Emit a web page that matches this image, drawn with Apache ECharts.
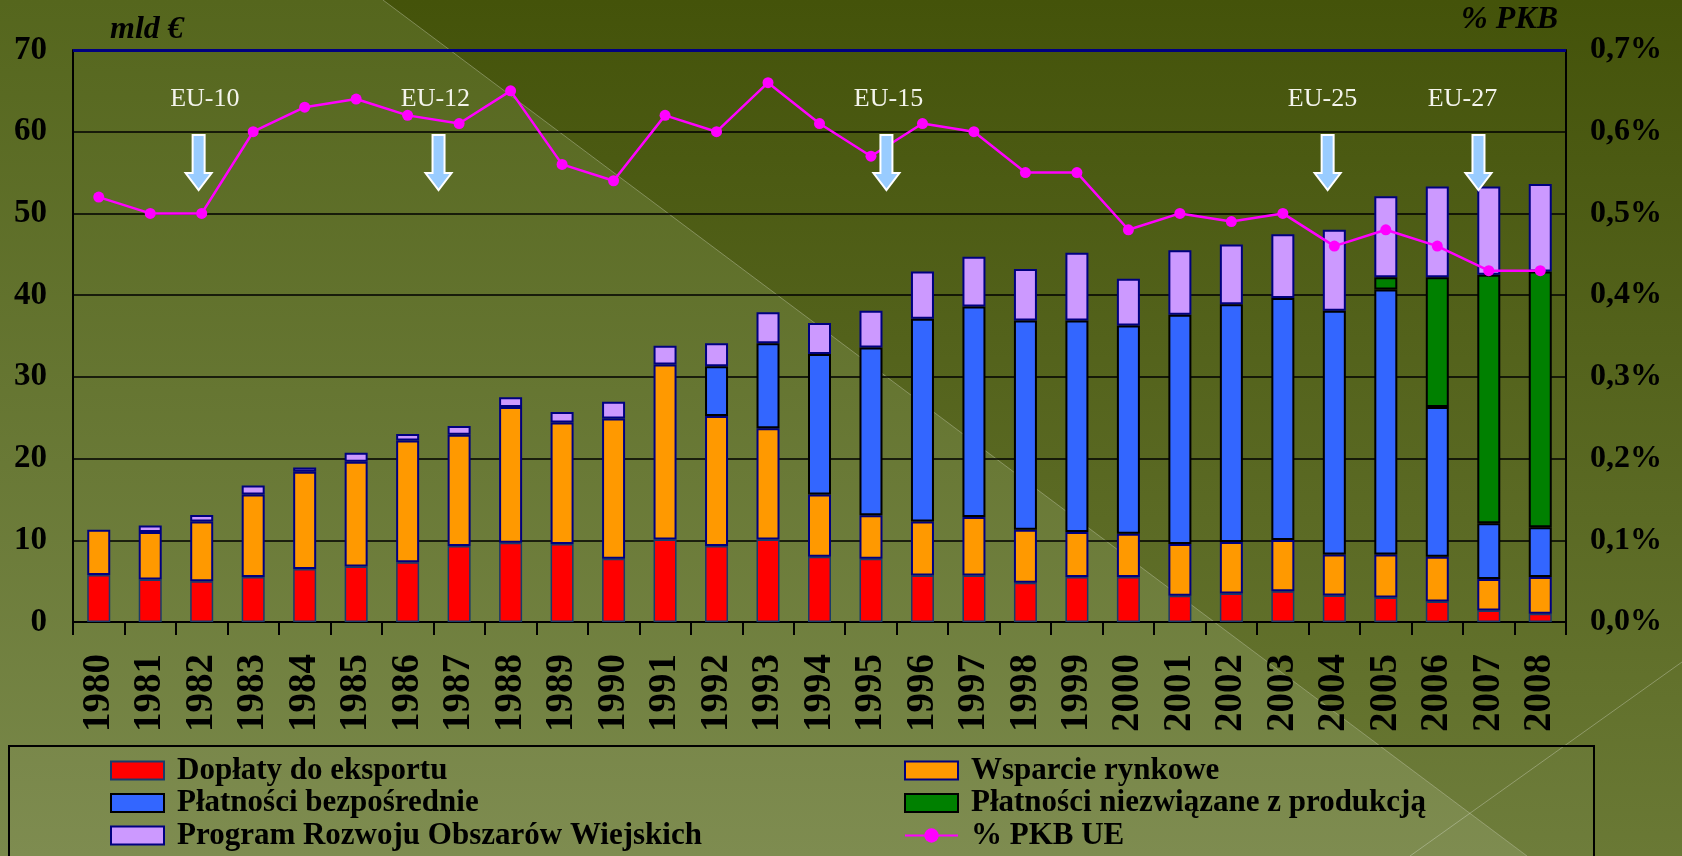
<!DOCTYPE html>
<html>
<head>
<meta charset="utf-8">
<script src="https://cdn.jsdelivr.net/npm/echarts@6/dist/echarts.min.js"></script>
<style>
html,body{margin:0;padding:0;background:#5a6a20;}
#chart{width:1682px;height:856px;}
</style>
</head>
<body>
<div id="chart"></div>
<script>
// ---- data ----
const years = ['1980','1981','1982','1983','1984','1985','1986','1987','1988','1989','1990','1991','1992','1993','1994','1995','1996','1997','1998','1999','2000','2001','2002','2003','2004','2005','2006','2007','2008'];
const doplaty = [5.75,5.2,5.0,5.5,6.5,6.8,7.3,9.3,9.7,9.55,7.75,10.1,9.3,10.1,8.0,7.75,5.7,5.7,4.8,5.5,5.5,3.2,3.5,3.75,3.25,3.0,2.5,1.4,1.0];
const wsparcie = [5.55,5.8,7.3,10.1,11.9,12.8,14.9,13.6,16.6,14.85,17.15,21.4,15.9,13.6,7.6,5.3,6.6,7.15,6.5,5.5,5.3,6.35,6.3,6.3,5.0,5.25,5.5,3.85,4.5];
const bezposrednie = [null,null,null,null,null,null,null,null,null,null,null,null,6.1,10.4,17.2,20.55,24.8,25.75,25.6,25.9,25.5,28.05,29.1,29.6,29.85,32.45,18.3,6.85,6.1];
const niezwiazane = [null,null,null,null,null,null,null,null,null,null,null,null,null,null,null,null,null,null,null,null,null,null,null,null,null,1.5,15.9,30.4,31.3];
const program = [null,0.8,0.8,1.1,0.5,1.1,0.8,1.1,1.2,1.3,2.05,2.3,2.8,3.8,3.8,4.5,5.8,6.1,6.3,8.3,5.7,7.9,7.3,7.8,9.9,9.9,11.1,10.8,10.7];
const pkb = [0.52,0.50,0.50,0.60,0.63,0.64,0.62,0.61,0.65,0.56,0.54,0.62,0.60,0.66,0.61,0.57,0.61,0.60,0.55,0.55,0.48,0.50,0.49,0.50,0.46,0.48,0.46,0.43,0.43];
const leftTicks = [0,10,20,30,40,50,60,70];
const euLabels = ['EU-10','EU-12','EU-15','EU-25','EU-27'];
const euYears = ['1982','1987','1995','2004','2007'];

// ---- layout (annotation offsets in category widths) ----
const euLabelOffset = [0.06,-0.46,0.34,-0.23,-0.51];
const euArrowOffset = [-0.06,-0.4,0.3,-0.13,-0.2];

const names = {
  d:'Dopłaty do eksportu', w:'Wsparcie rynkowe', b:'Płatności bezpośrednie',
  n:'Płatności niezwiązane z produkcją', p:'Program Rozwoju Obszarów Wiejskich', k:'% PKB UE'
};
const SERIF = '"Liberation Serif","Times New Roman",serif';

const chart = echarts.init(document.getElementById('chart'), null, {renderer:'canvas'});

function barSeries(name, data, color, border, bw){
  return {
    name, type:'bar', stack:'total', data, barWidth:23,
    itemStyle:{color, borderColor:border, borderWidth:bw}
  };
}

const legendText = {fontSize:31, fontWeight:'bold', fontFamily:SERIF, color:'#000', lineHeight:31, padding:[0,0,0,8]};
const legendBase = {type:'plain', orient:'vertical', top:755, padding:0, itemGap:1.5, itemWidth:53, itemHeight:18,
  selectedMode:false, textStyle:legendText};

const option = {
  animation:false,
  backgroundColor:'transparent',
  grid:{left:73, right:116, top:50, bottom:234, containLabel:false},
  legend:[
    Object.assign({}, legendBase, {left:110, data:[
      {name:names.d, icon:'rect'}, {name:names.b, icon:'rect'}, {name:names.p, icon:'rect'}]}),
    Object.assign({}, legendBase, {left:904, data:[
      {name:names.w, icon:'rect'}, {name:names.n, icon:'rect'}, {name:names.k}]})
  ],
  xAxis:{
    type:'category', data:years, boundaryGap:true,
    axisLine:{lineStyle:{color:'#000', width:2}},
    axisTick:{show:true, interval:0, length:13, lineStyle:{color:'#000', width:2}},
    axisLabel:{interval:0, rotate:90, fontSize:39, fontWeight:'bold', fontFamily:SERIF, color:'#000', margin:32}
  },
  yAxis:[
    {type:'value', min:leftTicks[0], max:leftTicks[leftTicks.length-1], interval:10,
     axisLine:{show:true, lineStyle:{color:'#000', width:2}}, axisTick:{show:false},
     axisLabel:{fontSize:33, fontWeight:'bold', fontFamily:SERIF, color:'#000', margin:26},
     splitLine:{lineStyle:{color:'#000', width:1.5}}},
    {type:'value', position:'right', min:0, max:0.7, interval:0.1,
     axisLine:{show:true, lineStyle:{color:'#000', width:2}}, axisTick:{show:false},
     axisLabel:{fontSize:32, fontWeight:'bold', fontFamily:SERIF, color:'#000', margin:24,
       formatter:v=>v.toFixed(1).replace('.',',')+'%'},
     splitLine:{show:false}}
  ],
  series:[
    barSeries(names.d, doplaty, '#ff0000', '#1a3a6a', 1.5),
    barSeries(names.w, wsparcie, '#ff9900', '#000080', 2),
    barSeries(names.b, bezposrednie, '#3366ff', '#000000', 2),
    barSeries(names.n, niezwiazane, '#008000', '#000000', 2),
    Object.assign(barSeries(names.p, program, '#cc99ff', '#000080', 2), {
      markLine:{silent:true, symbol:'none', label:{show:false},
        lineStyle:{color:'#000080', width:3, type:'solid'}, data:[{yAxis:70}]}
    }),
    {name:names.k, type:'line', yAxisIndex:1, data:pkb, z:10,
     symbol:'circle', symbolSize:11,
     lineStyle:{color:'#ff00ff', width:2.5}, itemStyle:{color:'#ff00ff'}}
  ]
};
chart.setOption(option);

// ---- decorations ----
const W = 1682, H = 856;
const g = [];
g.push({type:'polygon', z:-20, silent:true,
  shape:{points:[[0,0],[383,0],[1527,H],[0,H]]},
  style:{fill:new echarts.graphic.LinearGradient(0,0,0,1,[{offset:0,color:'#55661d'},{offset:1,color:'#7a894b'}])}});
g.push({type:'polygon', z:-20, silent:true,
  shape:{points:[[383,0],[W,0],[W,H],[1527,H]]},
  style:{fill:new echarts.graphic.LinearGradient(0,0,0,1,[{offset:0,color:'#44530a'},{offset:1,color:'#6a7935'}])}});
g.push({type:'line', z:-19, silent:true, shape:{x1:383,y1:0,x2:1527,y2:H},
  style:{stroke:'rgba(255,255,255,0.28)', lineWidth:1}});
g.push({type:'line', z:-19, silent:true, shape:{x1:1410,y1:H,x2:W,y2:662},
  style:{stroke:'rgba(255,255,255,0.28)', lineWidth:1}});
// legend box
g.push({type:'rect', z:-5, silent:true, shape:{x:9,y:746,width:1585,height:130},
  style:{fill:'rgba(255,255,255,0.03)', stroke:'#000', lineWidth:2}});
// axis titles
g.push({type:'text', left:110, top:14, z:5, style:{text:'mld €', font:'italic bold 32px '+SERIF, fill:'#000'}});
g.push({type:'text', right:124, top:4, z:5, style:{text:'% PKB', font:'italic bold 32px '+SERIF, fill:'#000'}});

const p0 = chart.convertToPixel({xAxisIndex:0}, years[0]);
const p1 = chart.convertToPixel({xAxisIndex:0}, years[1]);
const bw = p1 - p0;
euLabels.forEach((lab, i) => {
  const cx = chart.convertToPixel({xAxisIndex:0}, euYears[i]);
  const lx = cx + euLabelOffset[i]*bw;
  const ax = cx + euArrowOffset[i]*bw;
  g.push({type:'text', x:lx, y:99, z:20, silent:true,
    style:{text:lab, font:'26px '+SERIF, fill:'#f4f4ec', align:'center', verticalAlign:'middle'}});
  const t = 135, s = 173, b = 190;
  g.push({type:'polygon', z:20, silent:true,
    shape:{points:[[ax-6,t],[ax+6,t],[ax+6,s],[ax+13,s],[ax,b],[ax-13,s],[ax-6,s]]},
    style:{fill:'#99ccff', stroke:'#ffffff', lineWidth:2}});
});
chart.setOption({graphic:g});
</script>
</body>
</html>
